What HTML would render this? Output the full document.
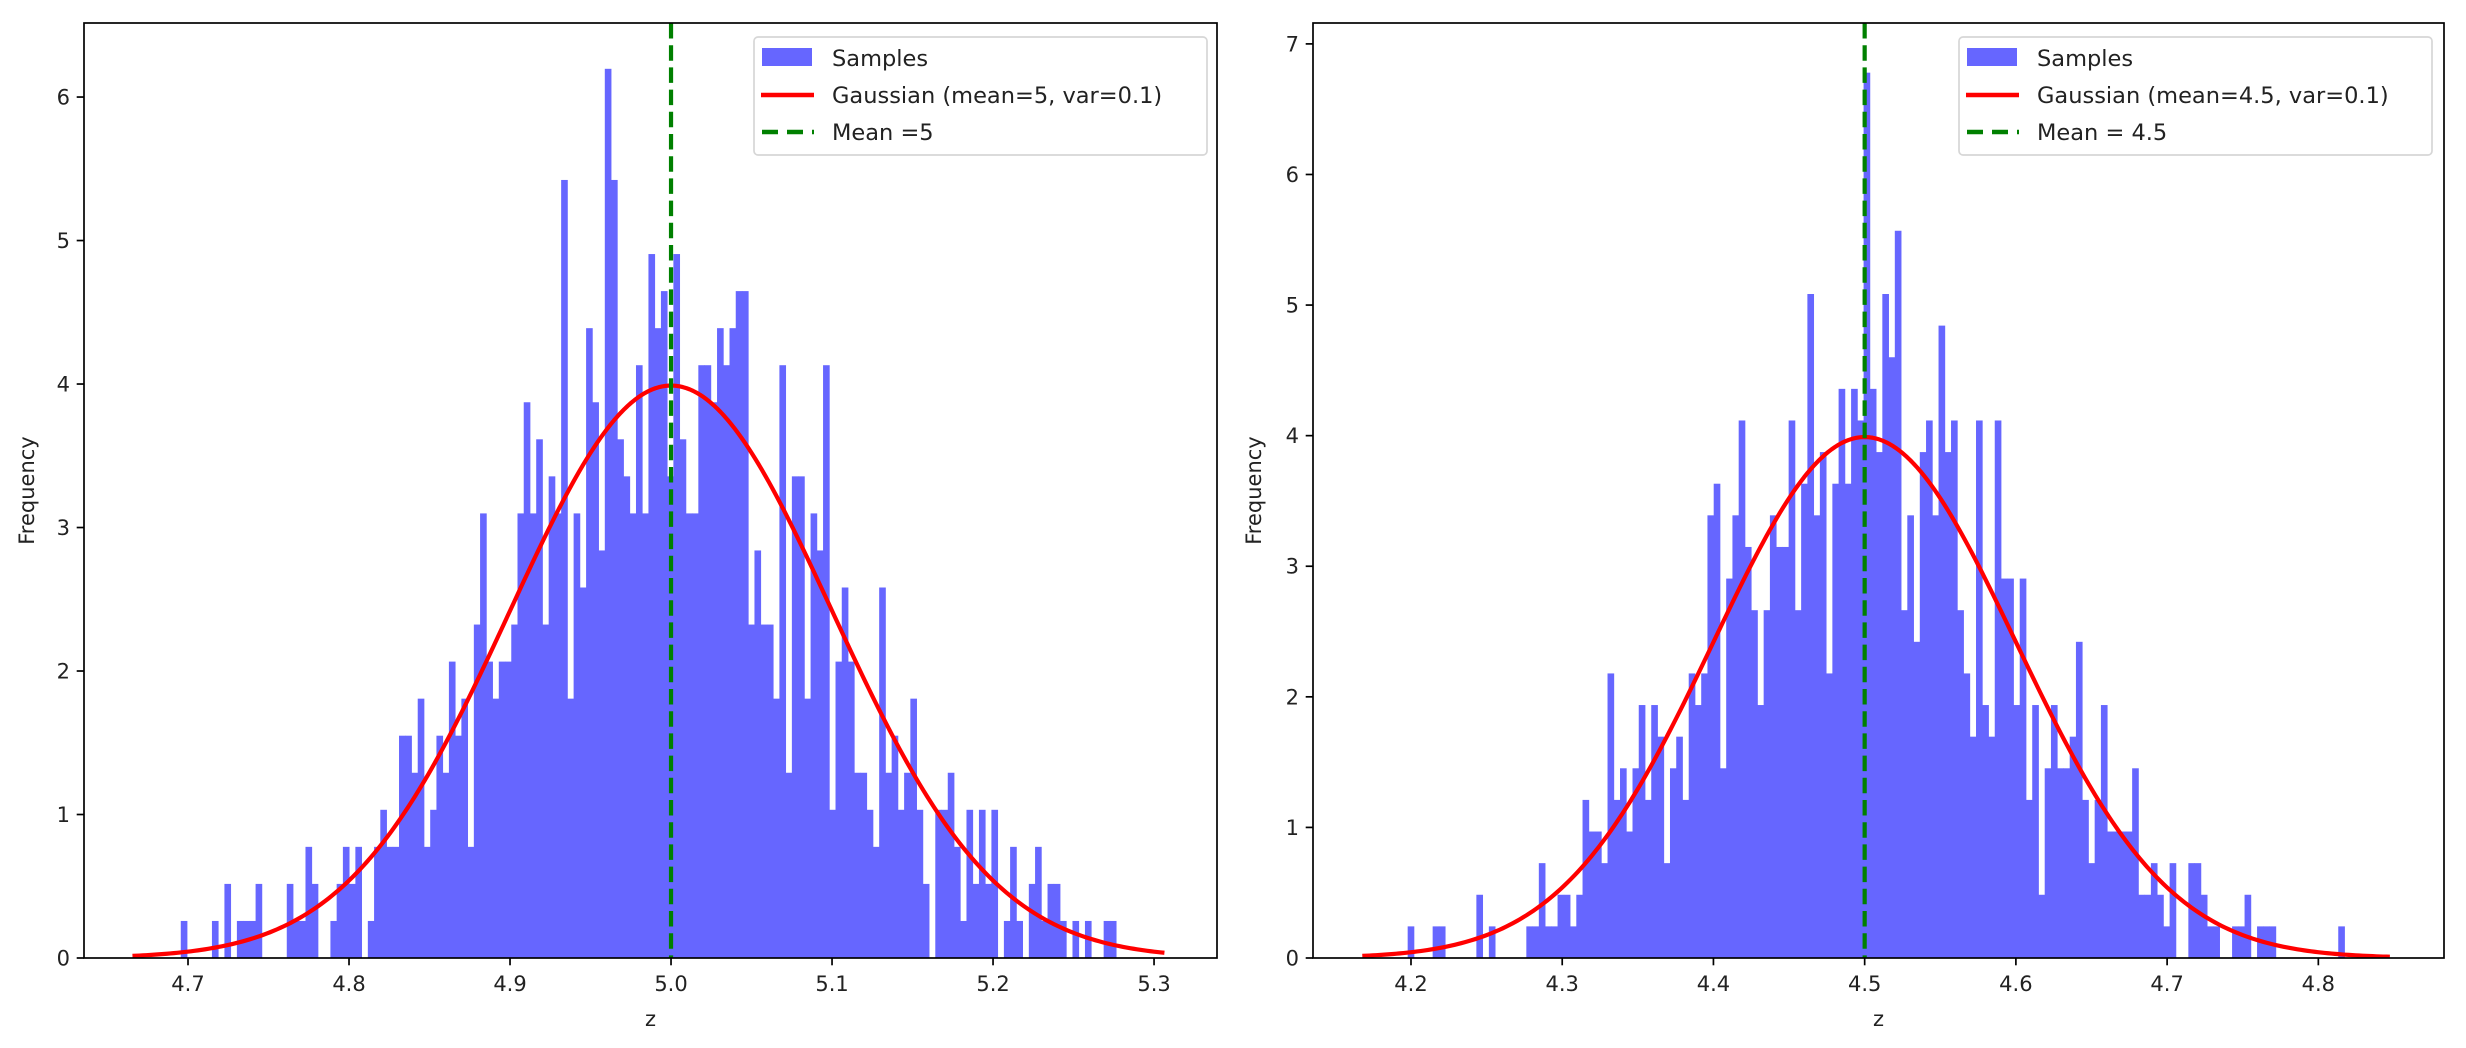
<!DOCTYPE html>
<html><head><meta charset="utf-8"><style>
html,body{margin:0;padding:0;background:#fff;}
svg{display:block;font-family:"DejaVu Sans","Liberation Sans",sans-serif;}
</style></head><body>
<svg id="fig" width="2466" height="1048" viewBox="0 0 2466 1048" xmlns="http://www.w3.org/2000/svg"></svg>
<script>
// ---- Left panel data ----
const leftCounts = [1,0,0,0,0,1,0,2,0,1,1,1,2,0,0,0,0,2,1,1,3,2,0,0,1,2,3,2,3,0,1,3,4,3,3,6,6,5,
7,3,4,6,5,8,6,7,3,9,12,8,7,8,8,9,12,15,12,14,9,13,12,21,7,12,10,17,15,11,24,21,14,13,12,16,12,19,17,
18,13,19,14,12,12,16,16,15,17,16,17,18,18,9,11,9,9,7,16,5,13,13,7,12,11,16,4,8,10,8,5,5,4,3,10,5,6,
4,5,7,4,2,0,4,4,5,3,1,4,2,4,2,4,0,1,3,1,0,2,3,1,2,2,1,0,1,0,1,0,0,1,1];
const leftBinStart = 4.6955;
const leftBinWidth = 0.003873;
const leftMean = 5.0;
const leftSigma = 0.1;
const leftXTicks = [4.7,4.8,4.9,5.0,5.1,5.2,5.3];
const leftXTickLabels = ["4.7","4.8","4.9","5.0","5.1","5.2","5.3"];
const leftYTicks = [0,1,2,3,4,5,6];
const leftLegendLabels = ["Samples","Gaussian (mean=5, var=0.1)","Mean =5"];

// ---- Right panel data ----
const rightCounts = [1,0,0,0,1,1,0,0,0,0,0,2,0,1,0,0,0,0,0,1,1,3,1,1,2,2,1,2,5,4,4,3,9,5,6,4,6,8,
5,8,7,3,6,7,5,9,8,9,14,15,6,12,14,17,13,11,8,11,14,13,13,17,11,15,21,14,16,9,15,18,15,18,17,28,18,16,21,
19,23,11,14,10,16,17,14,20,16,17,11,9,7,17,8,7,17,12,12,8,12,5,8,2,6,8,6,6,7,10,5,3,5,8,4,4,4,
4,6,2,2,3,2,1,3,0,0,3,3,2,1,1,0,0,1,1,2,0,1,1,1,0,0,0,0,0,0,0,0,0,0,1];
const rightBinStart = 4.1978;
const rightBinWidth = 0.00413;
const rightMean = 4.5;
const rightSigma = 0.1;
const rightXTicks = [4.2,4.3,4.4,4.5,4.6,4.7,4.8];
const rightXTickLabels = ["4.2","4.3","4.4","4.5","4.6","4.7","4.8"];
const rightYTicks = [0,1,2,3,4,5,6,7];
const rightLegendLabels = ["Samples","Gaussian (mean=4.5, var=0.1)","Mean = 4.5"];

const NS = "http://www.w3.org/2000/svg";
const fig = document.getElementById('fig');
function mk(tag, attrs, parent){
  const e = document.createElementNS(NS, tag);
  for (const k in attrs) e.setAttribute(k, attrs[k]);
  (parent||fig).appendChild(e);
  return e;
}

function panel(p){
  const g = mk('g', {});
  
  
  const X = v => p.x0 + (v - p.xmin) / (p.xmax - p.xmin) * (p.x1 - p.x0);
  const Y = v => p.y1 - (v - p.ymin) / (p.ymax - p.ymin) * (p.y1 - p.y0);
  const clipId = p.name + '-clip';
  const defs = mk('defs', {}, g);
  const cp = mk('clipPath', {id: clipId}, defs);
  mk('rect', {x:p.x0, y:p.y0, width:p.x1-p.x0, height:p.y1-p.y0}, cp);
  const plot = mk('g', {'clip-path':'url(#'+clipId+')'}, g);

  // bars
  const N = p.counts.reduce((a,b)=>a+b,0);
  const bars = mk('g', {}, plot);
  
  
  p.counts.forEach((c,i)=>{
    if (c <= 0) return;
    const d = c / (N * p.bw);
    const xa = X(p.bs + i*p.bw), xb = X(p.bs + (i+1)*p.bw);
    const r = mk('rect', {x:xa, y:Y(d), width:xb-xa+0.4, height:Y(0)-Y(d), fill:'#6666ff'}, bars);
    
    
  });

  // gaussian curve
  const lo = p.bs - 0.03, hi = p.bs + p.counts.length*p.bw + 0.03;
  let pts = [];
  for (let k=0;k<=300;k++){
    const v = lo + (hi-lo)*k/300;
    const d = Math.exp(-0.5*Math.pow((v-p.mean)/p.sigma,2))/(p.sigma*Math.sqrt(2*Math.PI));
    pts.push(X(v).toFixed(2)+','+Y(d).toFixed(2));
  }
  const curve = mk('polyline', {points:pts.join(' '), fill:'none', stroke:'#ff0000', 'stroke-width':4.2, 'stroke-linejoin':'round'}, plot);
  
  

  // mean line
  const ml = mk('line', {x1:X(p.mean), x2:X(p.mean), y1:p.y0, y2:p.y1, stroke:'#008000', 'stroke-width':4.2, 'stroke-dasharray':'15.5 6.7'}, plot);
  
  

  // frame
  const fr = mk('rect', {x:p.x0, y:p.y0, width:p.x1-p.x0, height:p.y1-p.y0, fill:'none', stroke:'#000', 'stroke-width':1.7}, g);
  
  

  // x ticks
  p.xt.forEach((v,i)=>{
    const x = X(v);
    const t = mk('line', {x1:x, x2:x, y1:p.y1, y2:p.y1+7.3, stroke:'#000', 'stroke-width':1.7}, g);
    
    
    const tx = mk('text', {x:x, y:p.y1+33, 'text-anchor':'middle', 'font-size':21, fill:'#222'}, g);
    tx.textContent = p.xtl[i];
    
    
  });
  // y ticks
  p.yt.forEach(v=>{
    const y = Y(v);
    const t = mk('line', {x1:p.x0-7.3, x2:p.x0, y1:y, y2:y, stroke:'#000', 'stroke-width':1.7}, g);
    
    
    const tx = mk('text', {x:p.x0-14, y:y+7.5, 'text-anchor':'end', 'font-size':21, fill:'#222'}, g);
    tx.textContent = String(v);
    
    
  });
  // axis titles
  const xl = mk('text', {x:(p.x0+p.x1)/2, y:1026, 'text-anchor':'middle', 'font-size':21, fill:'#222'}, g);
  xl.textContent = 'z';
  
  
  const yc = (p.y0+p.y1)/2;
  const yl = mk('text', {x:p.ylx, y:yc, 'text-anchor':'middle', 'font-size':21, fill:'#222', transform:'rotate(-90 '+p.ylx+' '+yc+')'}, g);
  yl.textContent = 'Frequency';
  
  

  // legend
  const lg = mk('g', {}, g);
  
  
  mk('rect', {x:p.lx0, y:37, width:p.lx1-p.lx0, height:118, rx:4, fill:'#fff', 'fill-opacity':0.8, stroke:'#d6d6d6', 'stroke-width':1.7}, lg);
  const hx = p.lx0 + 8;
  const rows = [58, 95, 132];
  const e0 = mk('rect', {x:hx, y:48, width:50, height:18, fill:'#6666ff'}, lg);
  
  
  const e1 = mk('line', {x1:hx-1, x2:hx+52, y1:rows[1], y2:rows[1], stroke:'#ff0000', 'stroke-width':4.5}, lg);
  
  
  const e2 = mk('line', {x1:hx, x2:hx+52, y1:rows[2], y2:rows[2], stroke:'#008000', 'stroke-width':4.5, 'stroke-dasharray':'16 9'}, lg);
  
  
  p.legend.forEach((s,i)=>{
    const t = mk('text', {x:hx+70, y:rows[i]+8, 'font-size':22.5, fill:'#222'}, lg);
    t.textContent = s;
    
    
  });
}

panel({name:'left-panel', x0:84, x1:1217, y0:23, y1:958, xmin:4.6354, xmax:5.3391, ymin:0, ymax:6.516,
  counts:leftCounts, bs:leftBinStart, bw:leftBinWidth, mean:leftMean, sigma:leftSigma,
  xt:leftXTicks, xtl:leftXTickLabels, yt:leftYTicks, legend:leftLegendLabels, ylx:34, lx0:754, lx1:1207});
panel({name:'right-panel', x0:1313, x1:2444, y0:23, y1:958, xmin:4.1352, xmax:4.8831, ymin:0, ymax:7.16,
  counts:rightCounts, bs:rightBinStart, bw:rightBinWidth, mean:rightMean, sigma:rightSigma,
  xt:rightXTicks, xtl:rightXTickLabels, yt:rightYTicks, legend:rightLegendLabels, ylx:1261, lx0:1959, lx1:2432});
</script>
</body></html>
